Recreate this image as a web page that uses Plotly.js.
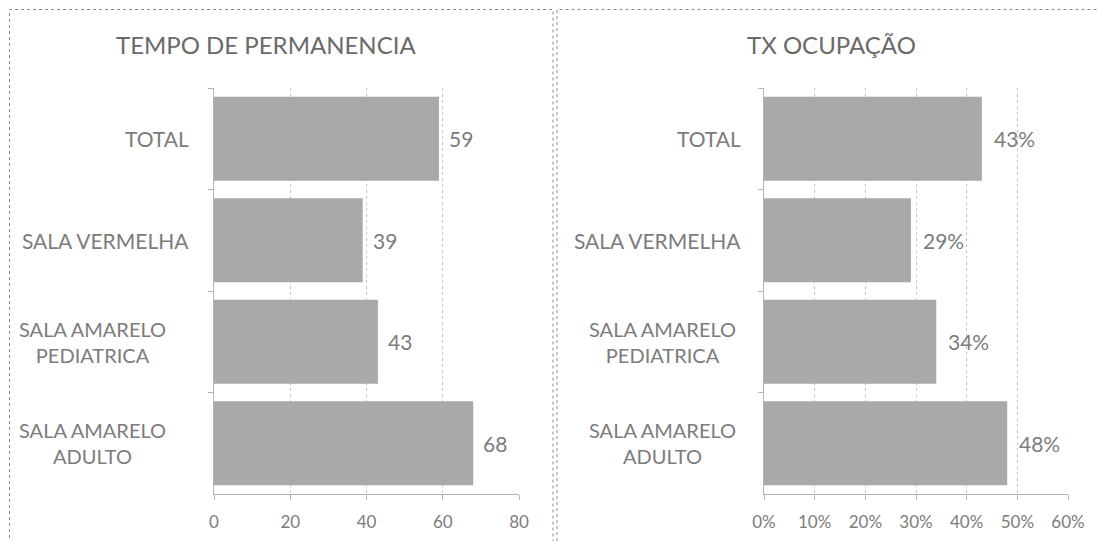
<!DOCTYPE html>
<html>
<head>
<meta charset="utf-8">
<script src="https://cdn.plot.ly/plotly-3.0.1.min.js"></script>
<style>html,body{margin:0;padding:0;background:#fff;}#chart{width:1098px;height:541px;}</style>
</head>
<body>
<div id="chart"></div>
<script>
// ---- data ----
const categories = ["TOTAL", "SALA VERMELHA", "SALA AMARELO<br>PEDIATRICA", "SALA AMARELO<br>ADULTO"];
const tempoPermanencia = [59, 39, 43, 68];
const txOcupacao = [0.43, 0.29, 0.34, 0.48];
const tempoTicks = [0, 20, 40, 60, 80];
const ocupTicks = [0, 0.1, 0.2, 0.3, 0.4, 0.5, 0.6];
const ocupTickLabels = ["0%", "10%", "20%", "30%", "40%", "50%", "60%"];
const titleLeft = "TEMPO DE PERMANENCIA";
const titleRight = "TX OCUPAÇÃO";

// ---- layout helpers ----
const W = 1098, H = 541;
const px = v => v / W;
const py = v => 1 - v / H;
const FONT = "Lato, 'Open Sans', sans-serif";
const textGray = "#7c7c7c";
const barColor = "#a9a9a9";
const gridColor = "#c8c8c8";

const traces = [
  {type: "bar", orientation: "h", x: tempoPermanencia, y: categories,
   xaxis: "x", yaxis: "y", marker: {color: barColor}, hoverinfo: "skip"},
  {type: "bar", orientation: "h", x: txOcupacao, y: categories,
   xaxis: "x2", yaxis: "y2", marker: {color: barColor}, hoverinfo: "skip"}
];

const yDomain = [py(494), py(88)];
const xCommon = {
  showgrid: true, gridcolor: gridColor, griddash: "dot", gridwidth: 1,
  zeroline: false, showline: true, linecolor: "#b5b5b5", linewidth: 1,
  ticks: "outside", ticklen: 5, tickcolor: "#b5b5b5", ticklabelstandoff: 8,
  tickfont: {family: FONT, size: 17, color: textGray}, fixedrange: true
};
const yCommon = {
  type: "category", categoryorder: "array", categoryarray: categories,
  autorange: "reversed", showticklabels: false, showgrid: false,
  showline: true, linecolor: "#b5b5b5", linewidth: 1,
  ticks: "outside", ticklen: 5, tickcolor: "#b5b5b5", tickson: "boundaries",
  zeroline: false, fixedrange: true
};

const annotations = [];
// titles
annotations.push({text: titleLeft, xref: "paper", yref: "paper", x: px(266), y: py(45),
  xanchor: "center", yanchor: "middle", showarrow: false,
  font: {family: FONT, size: 24, color: "#6a6a6a"}});
annotations.push({text: titleRight, xref: "paper", yref: "paper", x: px(831), y: py(45),
  xanchor: "center", yanchor: "middle", showarrow: false,
  font: {family: FONT, size: 24, color: "#6a6a6a"}});

// category labels
function catLabels(yref, rightEdge, twoLineCenter, size) {
  categories.forEach(c => {
    const multi = c.indexOf("<br>") >= 0;
    annotations.push({text: c, xref: "paper", yref: yref, y: c,
      x: px(multi ? twoLineCenter : rightEdge), xanchor: multi ? "center" : "right",
      yanchor: "middle", align: "center", showarrow: false,
      font: {family: FONT, size: multi ? size - 1 : size, color: textGray}});
  });
}
catLabels("y", 191, 92, 21);
catLabels("y2", 743, 662, 21);

// data labels
tempoPermanencia.forEach((v, i) => annotations.push({
  text: String(v), x: v, y: categories[i], xref: "x", yref: "y",
  xanchor: "left", yanchor: "middle", xshift: 8, showarrow: false,
  font: {family: FONT, size: 21, color: textGray}}));
txOcupacao.forEach((v, i) => annotations.push({
  text: Math.round(v * 100) + "%", x: v, y: categories[i], xref: "x2", yref: "y2",
  xanchor: "left", yanchor: "middle", xshift: 10, showarrow: false,
  font: {family: FONT, size: 21, color: textGray}}));

const shapes = [
  {type: "rect", xref: "paper", yref: "paper", x0: px(9.5), x1: px(553), y0: py(545), y1: py(9.5),
   line: {color: "#8c8c8c", width: 1, dash: "dot"}},
  {type: "rect", xref: "paper", yref: "paper", x0: px(557), x1: px(1102), y0: py(545), y1: py(9.5),
   line: {color: "#8c8c8c", width: 1, dash: "dot"}}
];

const layout = {
  width: W, height: H,
  margin: {l: 0, r: 0, t: 0, b: 0},
  paper_bgcolor: "#ffffff", plot_bgcolor: "#ffffff",
  showlegend: false, bargap: 0.17,
  xaxis: Object.assign({}, xCommon, {domain: [px(214), px(519)], range: [0, 80],
    tickvals: tempoTicks, anchor: "y"}),
  yaxis: Object.assign({}, yCommon, {domain: yDomain, anchor: "x"}),
  xaxis2: Object.assign({}, xCommon, {domain: [px(764), px(1068)], range: [0, 0.6],
    tickvals: ocupTicks, ticktext: ocupTickLabels, anchor: "y2"}),
  yaxis2: Object.assign({}, yCommon, {domain: yDomain, anchor: "x2"}),
  annotations: annotations,
  shapes: shapes
};

Plotly.newPlot("chart", traces, layout, {staticPlot: true, displayModeBar: false});
</script>
</body>
</html>
